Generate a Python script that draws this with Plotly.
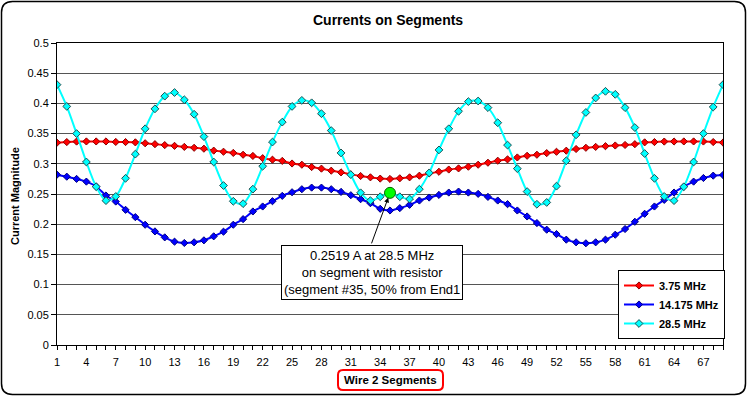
import plotly.graph_objects as go

segments = list(range(1, 70))

current_3_75 = [0.335, 0.336, 0.3368, 0.337, 0.337, 0.337, 0.3362, 0.336, 0.3355, 0.334,
                0.3325, 0.331, 0.3297, 0.328, 0.3265, 0.325, 0.3218, 0.32, 0.318, 0.315,
                0.313, 0.3093, 0.3068, 0.3048, 0.3005, 0.2985, 0.2946, 0.292, 0.2886, 0.2858,
                0.2825, 0.2798, 0.2776, 0.2755, 0.2749, 0.276, 0.2776, 0.2803, 0.284, 0.2868,
                0.2905, 0.2924, 0.2952, 0.2985, 0.3018, 0.3051, 0.3073, 0.3105, 0.3133, 0.315,
                0.3177, 0.3199, 0.3217, 0.3245, 0.3265, 0.328, 0.3292, 0.3303, 0.3312, 0.3325,
                0.3355, 0.336, 0.3368, 0.3369, 0.337, 0.337, 0.3369, 0.336, 0.3352]

current_14_175 = [0.282, 0.2787, 0.275, 0.2705, 0.2625, 0.2475, 0.2375, 0.2238, 0.2117, 0.1991,
                  0.1881, 0.1782, 0.1711, 0.1689, 0.170, 0.1733, 0.1799, 0.1876, 0.1991, 0.2084,
                  0.2211, 0.2293, 0.2381, 0.2469, 0.2529, 0.2579, 0.2606, 0.2606, 0.2579, 0.2535,
                  0.248, 0.2414, 0.2348, 0.2255, 0.2227, 0.2266, 0.2321, 0.2392, 0.2441, 0.2485,
                  0.2524, 0.254, 0.2524, 0.2502, 0.2452, 0.2392, 0.2332, 0.2227, 0.2128, 0.2019,
                  0.1909, 0.1837, 0.1744, 0.170, 0.1684, 0.170, 0.1744, 0.1826, 0.192, 0.204,
                  0.2172, 0.2293, 0.2403, 0.2524, 0.2622, 0.2705, 0.2765, 0.2804, 0.2815]

current_28_5 = [0.431, 0.395, 0.350, 0.303, 0.262, 0.239, 0.246, 0.276, 0.316, 0.358,
                0.391, 0.412, 0.418, 0.406, 0.382, 0.345, 0.303, 0.264, 0.238, 0.234,
                0.258, 0.296, 0.336, 0.369, 0.395, 0.405, 0.401, 0.383, 0.355, 0.318,
                0.282, 0.252, 0.239, 0.2455, 0.2519, 0.2455, 0.2417, 0.258, 0.285, 0.323,
                0.358, 0.387, 0.403, 0.404, 0.393, 0.368, 0.331, 0.292, 0.254, 0.233,
                0.236, 0.263, 0.305, 0.348, 0.385, 0.409, 0.420, 0.415, 0.393, 0.360,
                0.317, 0.276, 0.246, 0.239, 0.262, 0.303, 0.350, 0.394, 0.431]

series_names = ["3.75 MHz", "14.175 MHz", "28.5 MHz"]
x_tick_labels = [str(v) for v in range(1, 68, 3)]
y_tick_values = [round(i * 0.05, 2) for i in range(11)]

resistor_segment = 35
resistor_current = 0.2519

W, H = 748, 397
ML, MR, MT, MB = 57, 25, 43, 52
PW, PH = W - ML - MR, H - MT - MB
FONT = "Liberation Sans, Arial, sans-serif"


def px(x):
    return (x - ML) / PW


def py(y):
    return (H - MB - y) / PH


def rounded_rect(x0, y0, x1, y1, r):
    pts = [
        ("M", [(x0 + r, y0)]), ("L", [(x1 - r, y0)]), ("Q", [(x1, y0), (x1, y0 + r)]),
        ("L", [(x1, y1 - r)]), ("Q", [(x1, y1), (x1 - r, y1)]),
        ("L", [(x0 + r, y1)]), ("Q", [(x0, y1), (x0, y1 - r)]),
        ("L", [(x0, y0 + r)]), ("Q", [(x0, y0), (x0 + r, y0)]),
    ]
    s = ""
    for cmd, coords in pts:
        s += cmd + " " + " ".join(f"{px(a):.5f},{py(b):.5f}" for a, b in coords) + " "
    return s + "Z"


fig = go.Figure()

styles = [
    (current_3_75, "#FF0000", "#8B0000", 5.5),
    (current_14_175, "#0000FF", "#000080", 5.5),
    (current_28_5, "#00FFFF", "#205050", 6),
]
for name, (vals, col, edge, ms) in zip(series_names, styles):
    fig.add_trace(go.Scatter(
        x=segments, y=vals, name=name, mode="lines+markers",
        line=dict(color=col, width=2, shape="spline", smoothing=0.8),
        marker=dict(symbol="diamond", size=ms, color=col, line=dict(color=edge, width=1)),
    ))

fig.add_trace(go.Scatter(
    x=[resistor_segment], y=[resistor_current], mode="markers", showlegend=False,
    marker=dict(symbol="circle", size=11, color="#00FF00", line=dict(color="#006400", width=1)),
))

fig.update_layout(
    width=W, height=H,
    margin=dict(l=ML, r=MR, t=MT, b=MB),
    paper_bgcolor="white", plot_bgcolor="white",
    font=dict(family=FONT, size=11, color="black"),
    showlegend=True,
    legend=dict(
        x=px(618), y=py(270), xanchor="left", yanchor="top",
        bgcolor="white", bordercolor="black", borderwidth=1,
        font=dict(family=FONT, size=11, color="black", weight="bold"),
        tracegroupgap=0, itemwidth=30,
    ),
    xaxis=dict(
        range=[1, 69], tickmode="array",
        tickvals=list(range(1, 68, 3)), ticktext=x_tick_labels,
        ticks="outside", ticklen=4, tickcolor="black", ticklabelstandoff=3,
        minor=dict(tickmode="linear", tick0=1, dtick=1, ticks="outside", ticklen=4, tickcolor="black"),
        showline=True, linecolor="black", linewidth=1, mirror=True,
        showgrid=False, zeroline=False,
        tickfont=dict(family=FONT, size=11, color="black"),
    ),
    yaxis=dict(
        range=[0, 0.5], tickmode="array", tickvals=y_tick_values,
        ticktext=[f"{v:g}" for v in y_tick_values],
        ticks="outside", ticklen=5, tickcolor="black",
        showline=True, linecolor="black", linewidth=1, mirror=True,
        showgrid=True, gridcolor="#555555", gridwidth=1, zeroline=False,
        tickfont=dict(family=FONT, size=11, color="black"),
    ),
)

# chart title
fig.add_annotation(x=px(388), y=py(20), xref="paper", yref="paper", showarrow=False,
                   xanchor="center", yanchor="middle",
                   text="Currents on Segments",
                   font=dict(family=FONT, size=14, color="black", weight="bold"))
# y title
fig.add_annotation(x=px(15), y=py(196), xref="paper", yref="paper", showarrow=False,
                   xanchor="center", yanchor="middle",
                   text="Current Magnitude", textangle=-90,
                   font=dict(family=FONT, size=11, color="black", weight="bold"))
# x title with red rounded box
fig.add_shape(type="path", xref="paper", yref="paper",
              path=rounded_rect(338, 370, 443, 390, 5),
              line=dict(color="#FF0000", width=2), fillcolor="white")
fig.add_annotation(x=px(390.5), y=py(380), xref="paper", yref="paper", showarrow=False,
                   xanchor="center", yanchor="middle",
                   text="Wire 2 Segments",
                   font=dict(family=FONT, size=11.5, color="black", weight="bold"))
# outer frame
fig.add_shape(type="path", xref="paper", yref="paper",
              path=rounded_rect(1.5, 1.5, 745.5, 394.5, 11),
              line=dict(color="black", width=1.5))

# callout
fig.add_annotation(x=resistor_segment, y=resistor_current, xref="x", yref="y",
                   ax=-19, ay=52, axref="pixel", ayref="pixel",
                   text="", showarrow=True, arrowhead=2, arrowsize=1, arrowwidth=1,
                   arrowcolor="black", standoff=5)
fig.add_annotation(x=px(371.5), y=py(272.5), xref="paper", yref="paper", showarrow=False,
                   xanchor="center", yanchor="middle",
                   text="0.2519 A at 28.5 MHz<br>on segment with resistor<br>(segment #35, 50% from End1",
                   font=dict(family=FONT, size=13, color="black"),
                   bgcolor="white", bordercolor="black", borderwidth=1, borderpad=2)

fig.write_html("out.html", config={"displayModeBar": False},
               post_script="document.body.style.margin='0';")
